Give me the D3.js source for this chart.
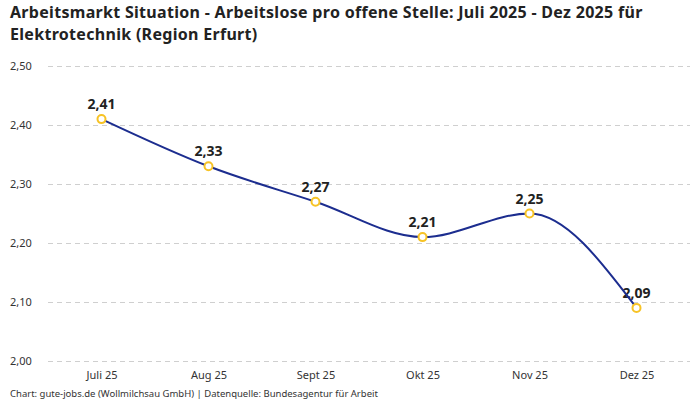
<!DOCTYPE html>
<html>
<head>
<meta charset="utf-8">
<script src="https://cdn.jsdelivr.net/npm/d3@7"></script>
<style>
  body { margin: 0; background: #fff; }
  svg { display: block; font-family: "Noto Sans", sans-serif; }
</style>
</head>
<body>
<svg id="chart" width="700" height="400"></svg>
<script>
// chart data
var months = ["Juli 25", "Aug 25", "Sept 25", "Okt 25", "Nov 25", "Dez 25"];
var values = [2.41, 2.33, 2.27, 2.21, 2.25, 2.09];
var yTicks = [2.0, 2.1, 2.2, 2.3, 2.4, 2.5];

var svg = d3.select("svg#chart");
var fmt = function(v) { return d3.format(".2f")(v).replace(".", ","); };

// scales
var x = d3.scalePoint().domain(months).range([48, 690]).padding(0.5),
    y = d3.scaleLinear().domain([2.0, 2.5]).range([361, 66]);

// title
svg.append("text")
  .attr("x", 10).attr("y", 18)
  .style("font-size", "16px").style("font-weight", "bold").style("fill", "#222")
  .style("letter-spacing", "0.3px")
  .text("Arbeitsmarkt Situation - Arbeitslose pro offene Stelle: Juli 2025 - Dez 2025 für");
svg.append("text")
  .attr("x", 10).attr("y", 40)
  .style("font-size", "16px").style("font-weight", "bold").style("fill", "#222")
  .style("letter-spacing", "0.3px")
  .text("Elektrotechnik (Region Erfurt)");

// grid lines and y labels
var yAxis = d3.axisLeft(y).tickValues(yTicks).tickSize(-(690 - 48)).tickFormat(fmt);
var gy = svg.append("g").attr("transform", "translate(48,0)").call(yAxis);
gy.select(".domain").remove();
gy.selectAll(".tick line").attr("stroke", "#cfcfcf").attr("stroke-dasharray", "5,4");
gy.selectAll(".tick text")
  .attr("x", -38).attr("text-anchor", "start")
  .style("font-size", "11px").style("fill", "#333").style("font-family", "Noto Sans, sans-serif");

// x labels
var xAxis = d3.axisBottom(x).tickSize(0);
var gx = svg.append("g").attr("transform", "translate(0,368)").call(xAxis);
gx.select(".domain").remove();
gx.selectAll(".tick text")
  .style("font-size", "11px").style("fill", "#333").style("font-family", "Noto Sans, sans-serif");

// value labels (under the line)
svg.selectAll(".vlabel").data(values).enter().append("text")
  .attr("class", "vlabel")
  .attr("x", function(d, i) { return x(months[i]); })
  .attr("y", function(d) { return y(d) - 10; })
  .attr("text-anchor", "middle")
  .style("font-size", "14px").style("font-weight", "bold").style("fill", "#222")
  .text(fmt);

// line
var line = d3.line()
  .x(function(d, i) { return x(months[i]); })
  .y(function(d) { return y(d); })
  .curve(d3.curveMonotoneX);
svg.append("path").datum(values)
  .attr("d", line)
  .attr("fill", "none").attr("stroke", "#1c2d8f").attr("stroke-width", 2);

// points
svg.selectAll(".pt").data(values).enter().append("circle")
  .attr("class", "pt")
  .attr("cx", function(d, i) { return x(months[i]); })
  .attr("cy", function(d) { return y(d); })
  .attr("r", 4)
  .attr("fill", "#fff").attr("stroke", "#f7c325").attr("stroke-width", 2);

// footer
svg.append("text")
  .attr("x", 10).attr("y", 397)
  .style("font-size", "9.5px").style("fill", "#333")
  .text("Chart: gute-jobs.de (Wollmilchsau GmbH) | Datenquelle: Bundesagentur für Arbeit");
</script>
</body>
</html>
